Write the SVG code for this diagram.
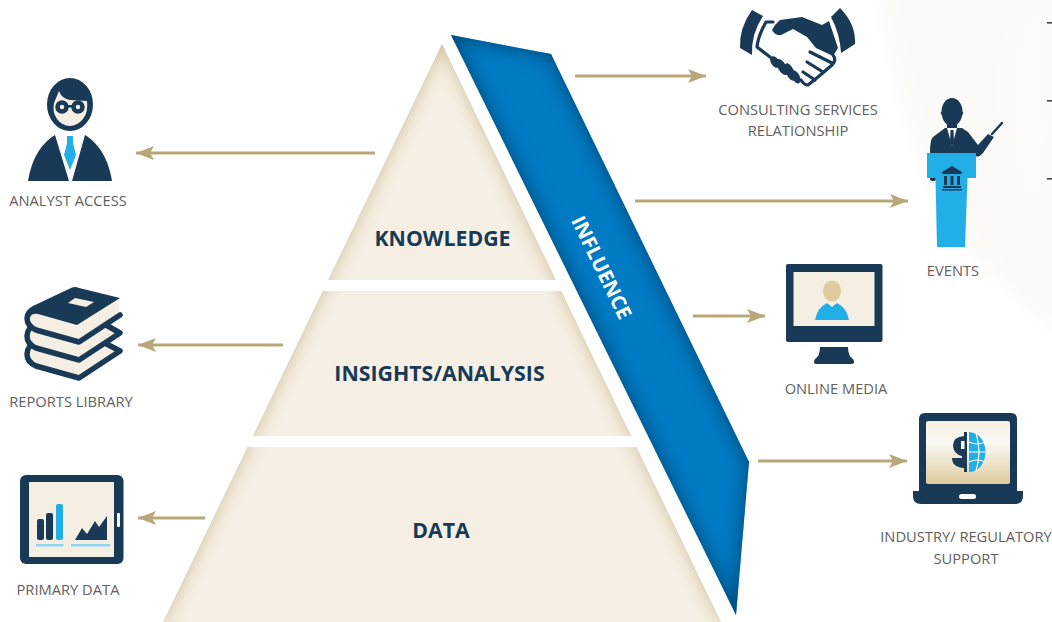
<svg xmlns="http://www.w3.org/2000/svg" width="1052" height="622" viewBox="0 0 1052 622">
<style>
.navy{fill:#183a56}.cream{fill:#f5efe3}.blue{fill:#22aee6}
.lbl{font-family:"Open Sans","Liberation Sans",sans-serif;font-size:14.7px;fill:#616161;text-anchor:middle}
.tier{font-family:"Open Sans","Liberation Sans",sans-serif;font-size:21.300px;font-weight:700;fill:#183a56;text-anchor:middle}
.arrow{stroke:#b9a77a;stroke-width:3;fill:none;marker-end:url(#head)}
.ln{fill:none;stroke:#183a56;stroke-linecap:round;stroke-linejoin:round}
</style>
<defs>
<marker id="head" markerUnits="userSpaceOnUse" markerWidth="20" markerHeight="16" refX="18" refY="7" orient="auto" overflow="visible"><path d="M18,7 L0,0 L4,7 L0,14Z" fill="#b9a77a"/></marker>
<filter id="inC" filterUnits="userSpaceOnUse" x="100" y="0" width="700" height="622" color-interpolation-filters="sRGB">
<feComponentTransfer in="SourceAlpha" result="inv"><feFuncA type="table" tableValues="1 0"/></feComponentTransfer>
<feGaussianBlur in="inv" stdDeviation="9" result="b"/>
<feFlood flood-color="#cdbf9b"/><feComposite in2="b" operator="in" result="s"/><feComposite in="s" in2="SourceAlpha" operator="in" result="s2"/>
<feMerge><feMergeNode in="SourceGraphic"/><feMergeNode in="s2"/></feMerge></filter>
<filter id="inB" filterUnits="userSpaceOnUse" x="400" y="0" width="400" height="622" color-interpolation-filters="sRGB">
<feComponentTransfer in="SourceAlpha" result="inv"><feFuncA type="table" tableValues="1 0"/></feComponentTransfer>
<feGaussianBlur in="inv" stdDeviation="10" result="b"/>
<feFlood flood-color="#00436f"/><feComposite in2="b" operator="in" result="s"/><feComposite in="s" in2="SourceAlpha" operator="in" result="s2"/>
<feMerge><feMergeNode in="SourceGraphic"/><feMergeNode in="s2"/></feMerge></filter>
<filter id="soft" x="-20%" y="-20%" width="140%" height="140%"><feGaussianBlur stdDeviation="14"/></filter>
<linearGradient id="lap" x1="0" y1="0" x2="0" y2="1"><stop offset="0" stop-color="#f5efe3"/><stop offset=".35" stop-color="#fbf9f4"/><stop offset="1" stop-color="#dfcb9d"/></linearGradient>
<polygon id="pyr" points="442,44 721,622 163,622" fill="#f6f0e4" filter="url(#inC)"/>
<clipPath id="c1"><rect x="100" y="0" width="700" height="280"/></clipPath>
<clipPath id="c2"><rect x="100" y="291" width="700" height="145"/></clipPath>
<clipPath id="c3"><rect x="100" y="447" width="700" height="175"/></clipPath>
</defs>

<g id="background">
<path d="M875,-30 Q895,120 950,230 Q1000,290 1085,355 V-30Z" fill="#fbfaf6" filter="url(#soft)"/>
<path d="M1015,0 L1052,0 L1052,240 L1010,190 L1005,70Z" fill="#fdfcfa" filter="url(#soft)"/>
<rect x="1047" y="22" width="5" height="1.600" fill="#444"/><rect x="1047" y="100" width="5" height="1.600" fill="#444"/><rect x="1047" y="178" width="5" height="1.600" fill="#444"/>
</g>

<g id="tier-knowledge"><g clip-path="url(#c1)"><use href="#pyr"/></g><text class="tier" x="442.500" y="245.500">KNOWLEDGE</text></g>
<g id="tier-insights"><g clip-path="url(#c2)"><use href="#pyr"/></g><text class="tier" x="439.500" y="380.500">INSIGHTS/ANALYSIS</text></g>
<g id="tier-data"><g clip-path="url(#c3)"><use href="#pyr"/></g><text class="tier" x="441" y="537.500">DATA</text></g>

<g id="influence"><polygon points="451,35 551,54 749,462 736,615" fill="#007bc4" filter="url(#inB)"/>
<text transform="translate(601.500,267.500) rotate(64)" x="0" y="7" font-family="'Open Sans','Liberation Sans',sans-serif" font-size="20" font-weight="700" fill="#fff" text-anchor="middle">INFLUENCE</text></g>

<g id="connectors">
<line class="arrow" x1="375" y1="153" x2="136" y2="153"/>
<line class="arrow" x1="283" y1="345" x2="138" y2="345"/>
<line class="arrow" x1="205" y1="518" x2="138" y2="518"/>
<line class="arrow" x1="575" y1="76" x2="706" y2="76"/>
<line class="arrow" x1="635" y1="201" x2="908" y2="201"/>
<line class="arrow" x1="693" y1="316" x2="765" y2="316"/>
<line class="arrow" x1="758" y1="461" x2="907" y2="461"/>
</g>

<g id="analyst-access">
<ellipse class="navy" cx="70" cy="104.500" rx="23" ry="26.500"/>
<path class="cream" d="M54,103 L59,91 Q62,99 70,100 L87,101 Q88.500,112 83,119 Q77,126 70,126 Q62,126 57,119 Q52,112 54,103Z"/>
<circle cx="62" cy="107" r="4.500" fill="#f5efe3" stroke="#183a56" stroke-width="4.500"/><circle cx="78" cy="107" r="4.500" fill="#f5efe3" stroke="#183a56" stroke-width="4.500"/><rect class="navy" x="66" y="105" width="8" height="2.500"/>
<path class="navy" d="M28,181 C32,157 42,143 55,135 L69,181Z"/><path class="navy" d="M112,181 C108,157 98,143 85,135 L72,181Z"/>
<path class="blue" d="M67,136 H73 V143 L76,155 L70,170 L64,155 L67,143Z"/>
<text class="lbl" x="68" y="205.500">ANALYST ACCESS</text>
</g>

<g id="reports-library">
<path class="cream" d="M120,351 L79,378 L36,366 Q27,362 27,354 Q27,346 36,342 L80,330Z" stroke="#183a56" stroke-width="5.500" stroke-linecap="round" stroke-linejoin="round"/>
<path class="cream" d="M120,333 L79,360 L36,348 Q27,344 27,336 Q27,328 36,324 L80,310Z" stroke="#183a56" stroke-width="5.500" stroke-linecap="round" stroke-linejoin="round"/>
<path class="cream" d="M119,298 V315 L79,342 L36,330 Q27,326 27,318 Q27,312 36,308Z"/>
<path class="ln" stroke-width="5.500" d="M120,315 L79,342 L36,330 Q27,326 27,318 Q27,312 36,308"/>
<path class="navy" d="M71,288 Q75,286 79,288 L120,298 L77,325 L38,314 Q31,313 30,318 L25,318 Q25,310 33,306Z"/>
<polygon class="cream" points="68,303 75,298 94,302 86,307"/>
<text class="lbl" x="71" y="406.500">REPORTS LIBRARY</text>
</g>

<g id="primary-data">
<rect class="navy" x="20" y="475" width="103.500" height="89" rx="6"/>
<rect class="cream" x="29" y="482" width="85" height="75"/>
<rect x="117" y="513" width="3" height="14" rx="1" fill="#fff"/>
<rect class="navy" x="37" y="519" width="7" height="21" rx="2"/><rect class="navy" x="46" y="513" width="7" height="27" rx="2"/><rect class="blue" x="56" y="504" width="7" height="36" rx="2"/>
<polygon class="navy" points="75,540 82,528 87,534 95,521 99,527 107,516 107,540"/>
<rect x="36" y="544" width="27.500" height="2.500" fill="#8fd6f0"/><rect x="71" y="544" width="39" height="2.500" fill="#8fd6f0"/>
<text class="lbl" x="68" y="595">PRIMARY DATA</text>
</g>

<g id="consulting-services">
<path class="navy" d="M752,10 L763,16 Q751,34 752,55 L740,48 Q739,28 752,10Z"/>
<path class="navy" d="M840,8 L831,17 Q840,34 841,53 L855,44 Q856,24 840,8Z"/>
<path class="navy" d="M772,30 Q775,24 780,20 L802,17 L822,25 L829,21 L838,48 L833,56 L816,48 L807,37 L793,29 L781,35 Q775,36 772,30Z"/>
<path class="ln" stroke-width="3.200" d="M773,22 H766 Q758,36 757,47 L770,57"/>
<path class="ln" stroke-width="3.200" d="M833,55 Q837,60 832,65 L818,77 L808,85 Q804,85 801,80"/>
<path class="ln" stroke-width="3.200" d="M810,52 L832,63 M807,62 L823,72 M803,72 L815,80"/>
<ellipse class="navy" cx="775" cy="62" rx="4" ry="6.500" transform="rotate(-35 775 62)"/>
<ellipse class="navy" cx="782" cy="67" rx="4.200" ry="9" transform="rotate(-30 782 67)"/>
<ellipse class="navy" cx="790" cy="72" rx="4.200" ry="9.500" transform="rotate(-25 790 72)"/>
<ellipse class="navy" cx="796" cy="77" rx="3.800" ry="7" transform="rotate(-25 796 77)"/>
<text class="lbl" x="798" y="115">CONSULTING SERVICES</text><text class="lbl" x="798" y="136">RELATIONSHIP</text>
</g>

<g id="events">
<ellipse class="navy" cx="952" cy="112" rx="10.500" ry="14"/>
<ellipse class="navy" cx="952" cy="113" rx="11.500" ry="3"/>
<rect class="navy" x="947" y="122" width="10" height="7"/>
<path class="navy" d="M930,153 Q930,139 933,137 L945,128 H962 L968,132 L978,145 L988,134 L994,137 L983,153 Q979,158 975,156 L972,153Z"/>
<path d="M947,128 H957 L952,146Z" fill="#fff"/><path class="navy" d="M950.500,130 H953.500 L954,142 L952,146 L950,142Z"/>
<line x1="992" y1="134" x2="1002" y2="123" stroke="#183a56" stroke-width="2.500" stroke-linecap="round"/>
<rect class="navy" x="930" y="176" width="6" height="5" rx="2"/>
<path class="blue" d="M927,153 H976 V178 H967.500 L965,247 H937 L935.500,178 H927Z"/>
<path class="navy" d="M952,166 L962,172 V174 H942 V172Z"/>
<path class="navy" d="M944,176 H947 V185 H944Z M950.500,176 H953.500 V185 H950.500Z M957,176 H960 V185 H957Z M943,186 H961 V188 H943Z M942,189 H962 V190.500 H942Z"/>
<text class="lbl" x="953" y="275.500">EVENTS</text>
</g>

<g id="online-media">
<rect class="navy" x="786" y="264" width="96.500" height="78" rx="2"/>
<rect class="cream" x="793.500" y="272" width="81" height="54"/>
<ellipse cx="832" cy="291" rx="9" ry="10.500" fill="#dfcb9d"/>
<path class="blue" d="M815,320 Q817,308 827,303 L832,307 L837,303 Q847,308 849,320Z"/>
<path class="navy" d="M820,347 H848 Q848,356 853,359 Q856,364 851,364 H817 Q812,364 815,359 Q820,356 820,347Z"/>
<text class="lbl" x="836" y="393.500">ONLINE MEDIA</text>
</g>

<g id="industry-regulatory-support">
<path class="navy" d="M919,491 V419 Q919,413 925,413 H1011 Q1017,413 1017,419 V491 H1023 V496 Q1023,504 1015,504 H921 Q913,504 913,496 V491Z"/>
<rect x="926" y="421" width="84" height="63" rx="2" fill="url(#lap)"/>
<rect x="959" y="494" width="17" height="5" rx="2.500" fill="#fff"/>
<path class="blue" d="M969,432 A16.500,20 0 0 1 969,472Z"/>
<path d="M969,442 Q978,446 985,442 M969,462 Q978,458 985,462 M969,452 H985.500 M976,433 Q982,452 976,471" fill="none" stroke="#fff" stroke-width="1.200"/>
<path class="navy" fill-rule="evenodd" d="M967,432 V472 H964 V468 Q952,467 952,458 H962 V456 Q953,454 953,445 Q953,437 964,436 V432Z M961,441 H964.500 V449 H961Z"/>
<text class="lbl" x="966" y="542">INDUSTRY/ REGULATORY</text><text class="lbl" x="966" y="564">SUPPORT</text>
</g>
</svg>
